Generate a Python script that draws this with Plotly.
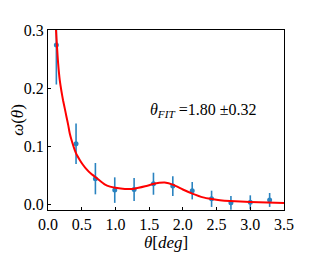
import plotly.graph_objects as go

# data points
theta = [0.124, 0.416, 0.703, 0.99, 1.277, 1.564, 1.851, 2.139, 2.426, 2.713, 3.0, 3.287]
omega = [0.274, 0.104, 0.0437, 0.024, 0.025, 0.035, 0.031, 0.023, 0.009, 0.002, 0.003, 0.007]
omega_err = [0.068, 0.035, 0.027, 0.022, 0.02, 0.019, 0.017, 0.015, 0.014, 0.012, 0.012, 0.012]

# fit curve
fit_x = [0.10, 0.119, 0.134, 0.15, 0.174, 0.2, 0.223, 0.25, 0.273, 0.3, 0.322, 0.36, 0.397, 0.43, 0.471,
         0.51, 0.56, 0.64, 0.73, 0.84, 0.92, 1.0, 1.14, 1.28, 1.44, 1.56, 1.65, 1.73, 1.86, 2.0,
         2.14, 2.3, 2.43, 2.55, 2.7, 3.0, 3.5]
fit_y = [0.36, 0.30, 0.27, 0.243, 0.214, 0.194, 0.179, 0.164, 0.151, 0.136, 0.122, 0.106, 0.093, 0.084,
         0.076, 0.069, 0.0615, 0.052, 0.044, 0.034, 0.030, 0.028, 0.026, 0.0265, 0.0305, 0.0345,
         0.0365, 0.037, 0.033, 0.025, 0.018, 0.0115, 0.0086, 0.0065, 0.005, 0.0035, 0.0017]

x_ticks = [0.0, 0.5, 1.0, 1.5, 2.0, 2.5, 3.0, 3.5]
y_ticks = [0.0, 0.1, 0.2, 0.3]

FONT = "Liberation Serif"
blue = "#2a83c0"

fig = go.Figure()
fig.add_trace(go.Scatter(
    x=theta, y=omega, mode="markers",
    marker=dict(color=blue, size=5, symbol="circle"),
    error_y=dict(type="data", array=omega_err, visible=True, color=blue, thickness=1.6, width=0),
    showlegend=False,
))
fig.add_trace(go.Scatter(
    x=fit_x, y=fit_y, mode="lines",
    line=dict(color="red", width=2, shape="spline", smoothing=0.5),
    showlegend=False,
))

# the page body adds an 8px offset, so the figure is 308x248 with reduced left/top margins
fig.update_layout(
    width=308, height=248,
    margin=dict(l=40, r=32, t=22, b=46),
    paper_bgcolor="white", plot_bgcolor="white",
    font=dict(family=FONT, size=16, color="black"),
    xaxis=dict(
        range=[0, 3.5], tickvals=x_ticks, ticktext=[f"{v:.1f}" for v in x_ticks],
        ticks="inside", ticklen=3, tickcolor="black", showgrid=False, zeroline=False,
        showline=True, linecolor="black", linewidth=1, mirror=True, automargin=False,
        tickfont=dict(family=FONT, size=16),
        title=dict(text="<i>θ</i>[<i>deg</i>]", standoff=2, font=dict(family=FONT, size=17)),
    ),
    yaxis=dict(
        range=[-0.0103, 0.3], tickvals=y_ticks, ticktext=[f"{v:.1f}" for v in y_ticks],
        ticks="inside", ticklen=3, tickcolor="black", showgrid=False, zeroline=False,
        showline=True, linecolor="black", linewidth=1, mirror=True, automargin=False,
        tickfont=dict(family=FONT, size=16),
        title=dict(text="<i>ω</i>(<i>θ</i>)", standoff=4, font=dict(family=FONT, size=17)),
    ),
    annotations=[dict(
        x=1.48, y=0.162, xref="x", yref="y", xanchor="left", yanchor="middle",
        text="<i>θ</i><sub><i>FIT</i></sub> =1.80 ±0.32", showarrow=False,
        font=dict(family=FONT, size=16, color="black"),
    )],
)

fig.write_html("out.html")
